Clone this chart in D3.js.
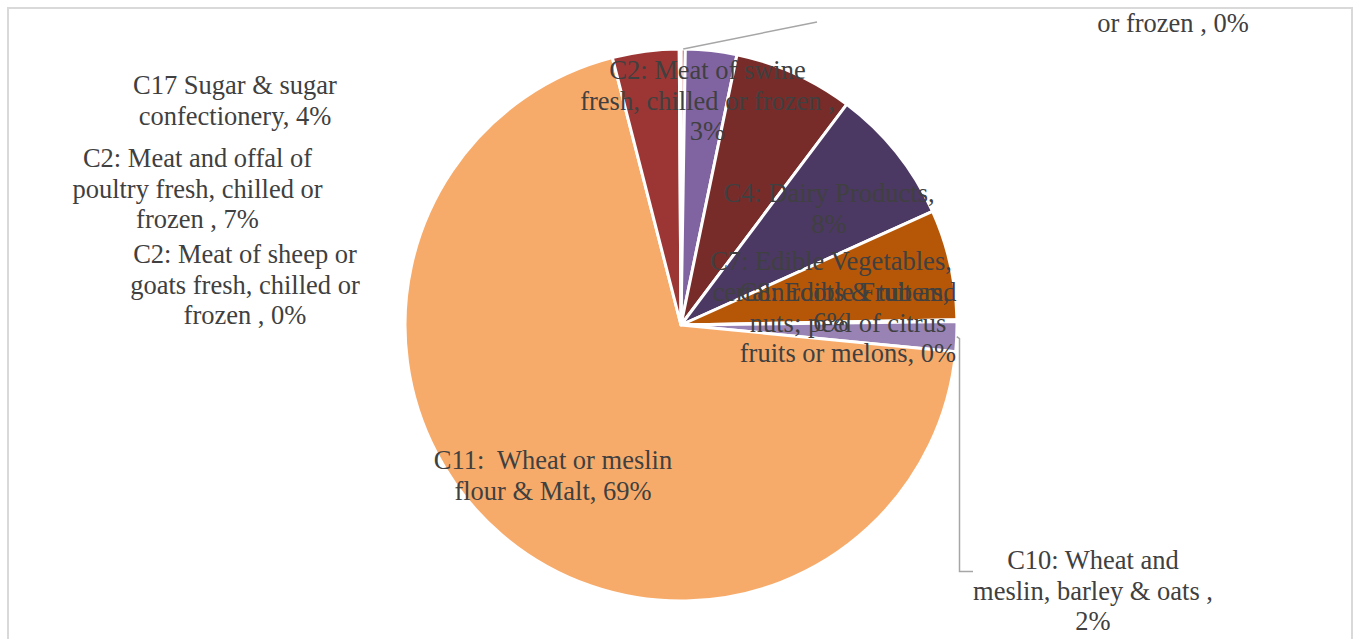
<!DOCTYPE html>
<html>
<head>
<meta charset="utf-8">
<script src="https://cdn.jsdelivr.net/npm/d3@7"></script>
<style>
  body { margin: 0; background: #fff; }
  svg { display: block; }
  .lbl { font-family: "Liberation Serif", "Times New Roman", serif; font-size: 26.5px; fill: #404040; }
</style>
</head>
<body>
<div id="chart"></div>
<script>
// ── Data ──
const categories = [
  'C2: Meat of bovine animals fresh, chilled or frozen',
  'C2: Meat of swine fresh, chilled or frozen',
  'C2: Meat and offal of poultry fresh, chilled or frozen',
  'C4: Dairy Products',
  'C7: Edible Vegetables, certain roots & tubers',
  'C8: Edible Fruit and nuts; peel of citrus fruits or melons',
  'C10: Wheat and meslin, barley & oats',
  'C11: Wheat or meslin flour & Malt',
  'C17 Sugar & sugar confectionery',
  'C2: Meat of sheep or goats fresh, chilled or frozen'
];
const shares = [0.25, 3.0, 7.0, 8.0, 6.45, 0.1, 1.75, 69.45, 3.9, 0.1];
const colors = ['#C0504D', '#8064A2', '#772C2A', '#4B3963', '#B65708',
                '#7F9FC9', '#9983B5', '#F7AB6B', '#9C3634', '#C0504D'];

// label lines as shown, {p} = rounded share
const labelLines = [
  ['C2: Meat of bovine', 'animals fresh, chilled', 'or frozen , {p}'],
  ['C2: Meat of swine', 'fresh, chilled or frozen ,', '{p}'],
  ['C2: Meat and offal of', 'poultry fresh, chilled or', 'frozen , {p}'],
  ['C4: Dairy Products,', '{p}'],
  ['C7: Edible Vegetables,', 'certain roots & tubers,', '{p}'],
  ['C8: Edible Fruit and', 'nuts; peel of citrus', 'fruits or melons, {p}'],
  ['C10: Wheat and', 'meslin, barley & oats ,', '{p}'],
  ['C11:  Wheat or meslin', 'flour & Malt, {p}'],
  ['C17 Sugar & sugar', 'confectionery, {p}'],
  ['C2: Meat of sheep or', 'goats fresh, chilled or', 'frozen , {p}']
];

// ── Layout ──
const W = 1357, H = 639;
const cx = 681, cy = 325, R = 276;
const lineH = 30.5;
// label anchor: centre x, first baseline y
const labelAt = [
  [1173, -29], [707.5, 79], [197.5, 167], [829, 202], [831, 270],
  [848, 301], [1093, 569], [553, 469], [235, 94], [245, 263]
];

const svg = d3.select('#chart').append('svg')
  .attr('width', W).attr('height', H);

svg.append('defs').append('clipPath').attr('id', 'frame-clip')
  .append('rect').attr('x', 9).attr('y', 9).attr('width', 1342).attr('height', 700);

// chart frame
svg.append('rect')
  .attr('x', 8).attr('y', 8).attr('width', 1344).attr('height', 720)
  .attr('fill', 'none').attr('stroke', '#d9d9d9').attr('stroke-width', 2);

const pie = d3.pie().sort(null).value(d => d);
const arcs = pie(shares);
const arc = d3.arc().innerRadius(0).outerRadius(R);

const g = svg.append('g').attr('transform', `translate(${cx},${cy})`);

g.selectAll('path.slice')
  .data(arcs).enter().append('path')
  .attr('class', 'slice')
  .attr('d', arc)
  .attr('fill', (d, i) => colors[i])
  .attr('stroke', '#fff').attr('stroke-width', 3)
  .attr('stroke-linejoin', 'round');

// leader lines
const edge = d => {
  const a = (d.startAngle + d.endAngle) / 2;
  return [cx + R * Math.sin(a), cy - R * Math.cos(a)];
};
const leader = svg.append('g')
  .attr('fill', 'none').attr('stroke', '#a6a6a6').attr('stroke-width', 1.5);

const p0 = edge(arcs[0]);
leader.append('path').attr('d', `M${p0[0]},${p0[1]}L817,22`);

const p6 = edge(arcs[6]);
leader.append('path')
  .attr('d', `M${p6[0]},${p6[1]}L959.5,${p6[1] + 2}L959.5,571.5L973,571.5`);

// labels
const fmt = v => Math.round(v) + '%';
const labels = svg.append('g').attr('clip-path', 'url(#frame-clip)');

labelLines.forEach((lines, i) => {
  const t = labels.append('text')
    .attr('class', 'lbl')
    .attr('text-anchor', 'middle')
    .attr('x', labelAt[i][0]).attr('y', labelAt[i][1])
    .style('white-space', 'pre');
  lines.forEach((ln, j) => {
    t.append('tspan')
      .attr('x', labelAt[i][0])
      .attr('y', labelAt[i][1] + j * lineH)
      .text(ln.replace('{p}', fmt(shares[i])));
  });
});
</script>
</body>
</html>
